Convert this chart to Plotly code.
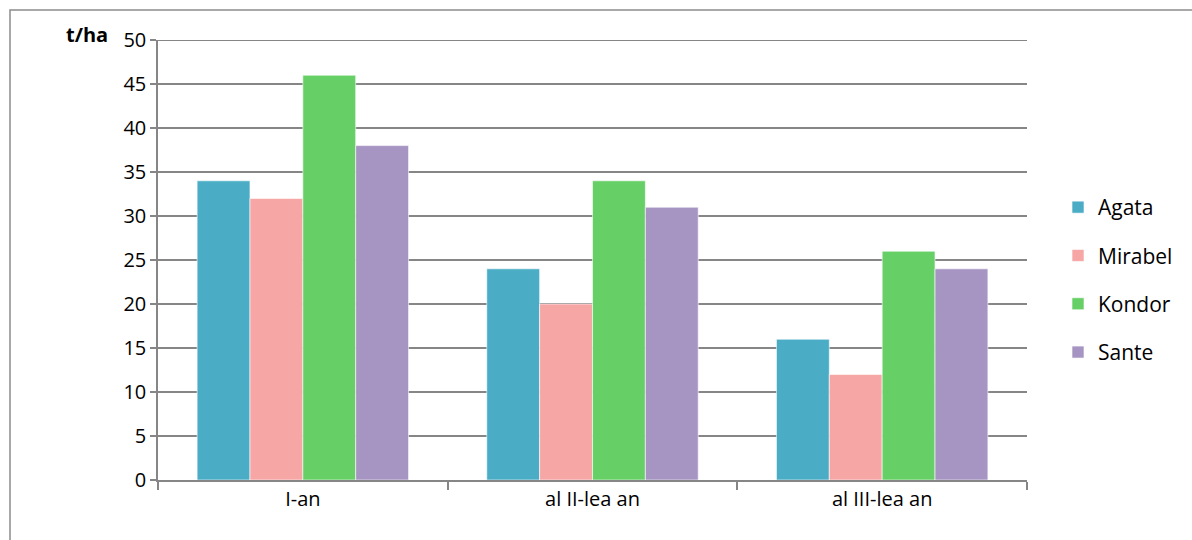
import plotly.graph_objects as go

categories = ["I-an", "al II-lea an", "al III-lea an"]
agata = [34, 24, 16]
mirabel = [32, 20, 12]
kondor = [46, 34, 26]
sante = [38, 31, 24]

series = [
    ("Agata", agata, "#4BACC6"),
    ("Mirabel", mirabel, "#F7A6A6"),
    ("Kondor", kondor, "#66CF66"),
    ("Sante", sante, "#A695C2"),
]

y_max = 50

fig = go.Figure()
for name, vals, color in series:
    fig.add_trace(go.Bar(
        x=categories, y=vals, name=name, legendgroup=name,
        marker=dict(color=color, line=dict(color="rgba(255,255,255,0.6)", width=1)),
    ))

W, H = 1192, 540
ml, mr, mt, mb = 158, 165, 40, 60
pw, ph = W - ml - mr, H - mt - mb

def px_x(p):
    return (p - ml) / pw

def px_y(p):
    return (H - mb - p) / ph

font = "Open Sans, Liberation Sans, sans-serif"
grid = "#868686"

fig.update_layout(
    width=W, height=H,
    margin=dict(l=ml, r=mr, t=mt, b=mb),
    paper_bgcolor="white", plot_bgcolor="white",
    barmode="group", bargap=0.27, bargroupgap=0,
    font=dict(family=font, size=20, color="black"),
    showlegend=True,
    legend=dict(
        x=px_x(1058), y=px_y(187), xanchor="left", yanchor="top",
        font=dict(size=21), traceorder="grouped", tracegroupgap=18,
        itemwidth=30,
    ),
    xaxis=dict(
        showline=True, linecolor=grid, linewidth=1.5,
        ticks="outside", tickson="boundaries", ticklen=8, tickcolor=grid,
        tickwidth=1.5, showgrid=False, tickfont=dict(size=20),
    ),
    yaxis=dict(
        range=[0, y_max], tickvals=list(range(0, y_max + 1, 5)),
        showline=True, linecolor=grid, linewidth=1.5,
        ticks="outside", ticklen=6, tickcolor=grid, tickwidth=1.5,
        showgrid=True, gridcolor=grid, gridwidth=1.5, zeroline=False,
        tickfont=dict(size=20),
    ),
    shapes=[
        dict(
            type="rect", xref="paper", yref="paper",
            x0=px_x(10), x1=px_x(1300), y0=px_y(700), y1=px_y(10),
            line=dict(color="#8C8C8C", width=1.5), fillcolor="rgba(0,0,0,0)",
            layer="below",
        ),
        # top gridline at the end of the value range
        dict(
            type="line", xref="paper", yref="y",
            x0=0, x1=1, y0=y_max, y1=y_max,
            line=dict(color=grid, width=2), layer="below",
        ),
    ],
    annotations=[dict(
        text="<b>t/ha</b>", xref="paper", yref="paper",
        x=px_x(110), y=px_y(35), xanchor="right", yanchor="middle",
        showarrow=False, font=dict(size=20),
    )],
)

fig.write_html("out.html")
